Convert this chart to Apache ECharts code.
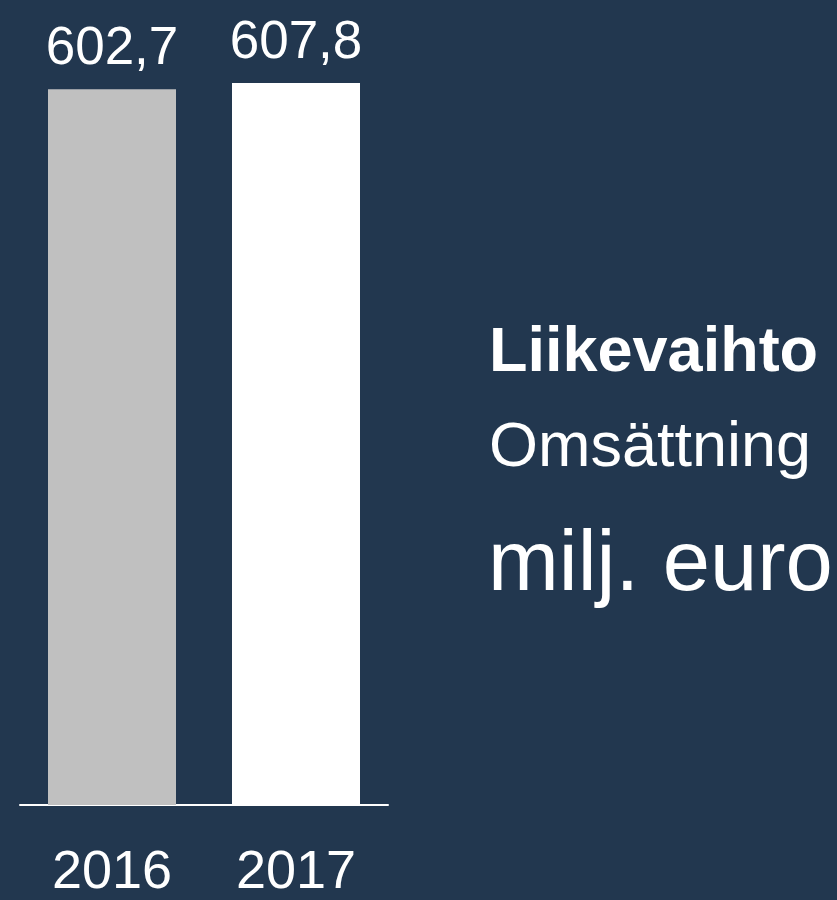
<!DOCTYPE html>
<html>
<head>
<meta charset="utf-8">
<script src="https://cdn.jsdelivr.net/npm/echarts@6/dist/echarts.min.js"></script>
<style>
  html, body { margin: 0; padding: 0; background: #22374f; }
  #chart { width: 837px; height: 900px; }
</style>
</head>
<body>
<div id="chart"></div>
<script>
// 年份与数值
const years = ['2016', '2017'];
const revenue = [602.7, 607.8];
const barColors = ['#c0c0c0', '#ffffff'];
const titleLines = ['Liikevaihto', 'Omsättning', 'milj. euro'];

function initChart() {
    const chart = echarts.init(document.getElementById('chart'));
    const font = 'Liberation Sans, Arial, sans-serif';
    chart.setOption({
        backgroundColor: '#22374f',
        animation: false,
        grid: {
            left: 20,
            width: 368,
            top: 33,
            bottom: 94
        },
        xAxis: {
            type: 'category',
            data: years,
            axisLine: { lineStyle: { color: '#ffffff', width: 2 } },
            axisTick: { show: false },
            axisLabel: {
                color: '#ffffff',
                fontSize: 54,
                fontFamily: font,
                margin: 41
            }
        },
        yAxis: {
            type: 'value',
            min: 0,
            max: 650,
            show: false,
            splitLine: { show: false }
        },
        series: [{
            type: 'bar',
            barWidth: 128,
            data: revenue.map((v, i) => ({ value: v, itemStyle: { color: barColors[i] } })),
            label: {
                show: true,
                position: 'top',
                distance: 13,
                color: '#ffffff',
                fontSize: 53,
                fontFamily: font,
                formatter: p => String(p.value).replace('.', ',')
            }
        }],
        graphic: [
            {
                type: 'text', left: 489, top: 322,
                style: { text: titleLines[0], fill: '#ffffff', font: 'bold 63px ' + font }
            },
            {
                type: 'text', left: 489, top: 417,
                style: { text: titleLines[1], fill: '#ffffff', font: '63px ' + font }
            },
            {
                type: 'text', left: 488, top: 524,
                style: { text: titleLines[2], fill: '#ffffff', font: '85px ' + font }
            }
        ]
    });
}

document.addEventListener('DOMContentLoaded', initChart);
</script>
</body>
</html>
